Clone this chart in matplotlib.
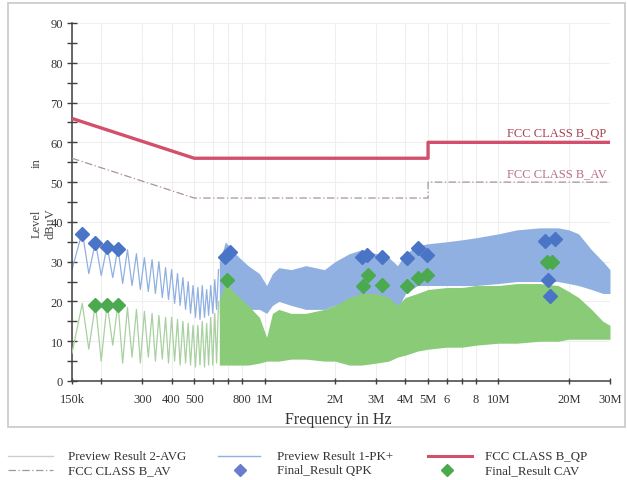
import matplotlib
matplotlib.use("Agg")
import matplotlib.pyplot as plt
from matplotlib.lines import Line2D
from matplotlib.patches import Rectangle
from matplotlib.ticker import FixedLocator, NullFormatter

plt.rcParams['font.family'] = ['Liberation Serif', 'DejaVu Serif']

# ---------------- data ----------------
# Preview Result 1-PK+ : clearly resolved oscillation (kHz, dBuV)
pk_lo_khz = [150, 166, 177, 189, 200, 212, 224, 236, 247, 259, 271, 283, 294, 306,
             318, 330, 341, 353, 365, 377, 388, 400, 412, 424, 435, 447, 459, 471,
             482, 494, 506, 518, 529, 541, 553, 565, 576, 588, 600, 612, 623, 635]
pk_lo_db = [28, 37.5, 27, 35, 26.5, 34, 26, 33.5, 24.5, 33, 24, 32, 23, 31,
            22.5, 30.5, 22, 30, 21, 28.5, 20.5, 28, 19.5, 27, 19, 26, 18, 25,
            17, 24, 16, 23.5, 15.5, 24, 16, 23, 16.5, 24, 17, 25.5, 18, 28]

# Preview Result 2-AVG : clearly resolved oscillation (kHz, dBuV)
av_lo_khz = pk_lo_khz
av_lo_db = [7, 19.5, 8, 19.5, 5, 19.5, 9, 19.5, 4.5, 18.5, 6, 18, 4.5, 17.5,
            6, 17, 5, 16.5, 5.5, 16, 4.5, 16, 5, 15.5, 4, 15, 4.5, 14.5,
            4, 14, 3.5, 14, 4, 15, 3.5, 14.5, 4, 16, 4, 17, 4.5, 20]

# dense part of the sweeps: envelopes (MHz, dBuV)
dense_mhz = [0.64, 0.68, 0.72, 0.78, 0.85, 0.95, 1.02, 1.08, 1.15, 1.3, 1.5, 1.8,
             2.0, 2.3, 2.6, 3.0, 3.4, 3.7, 4.0, 4.5, 5.0, 6.0, 7.0, 8.0, 10, 12,
             15, 18, 20, 22, 25, 28, 30]
pk_upper = [30, 35, 33, 31, 29, 27, 24, 27, 28.5, 28, 29, 28, 30, 32, 33, 32, 31,
            29, 32, 34, 34.5, 35, 35.5, 36, 37, 38, 38.5, 38.5, 38, 37, 33, 30, 28]
pk_lower = [17, 16, 17, 17, 18, 18, 17, 19, 20, 19, 18, 18, 19, 20, 21, 21, 20,
            18, 22, 24, 24, 24, 24, 24, 24.5, 25, 25, 25, 24.5, 24, 23, 22, 22]
av_upper = [20, 25, 23, 21, 19, 16, 11, 17, 18, 17, 17, 18, 19, 21, 22, 22, 21,
            19, 21, 22, 23, 23.5, 23.5, 24, 24, 24.5, 24.5, 24, 22.5, 21, 18, 15, 14]
av_lower = [4, 4, 4, 4, 4, 4.5, 5, 5, 5, 5.5, 5.5, 5, 5, 4, 4, 4.5, 5, 6, 6.5,
            7.5, 8, 8.5, 8.5, 9, 9.5, 9.5, 10, 10, 10.5, 10.5, 10.5, 10.5, 10.5]

# limits (MHz, dBuV)
lim_mhz = [0.15, 0.5, 5, 5, 30]
qp_limit = [66, 56, 56, 60, 60]
av_limit = [56, 46, 46, 50, 50]

# final results (MHz, dBuV)
qpk_mhz = [0.166, 0.189, 0.212, 0.236, 0.678, 0.710, 2.60, 2.73, 3.17, 4.05,
           4.54, 4.96, 15.8, 17.5, 16.3, 16.6]
qpk_db = [37.0, 34.7, 33.8, 33.2, 31.2, 32.4, 31.2, 31.6, 31.2, 30.9,
          33.4, 31.6, 35.1, 35.6, 25.5, 21.3]
cav_mhz = [0.189, 0.212, 0.236, 0.690, 2.64, 2.77, 3.19, 4.05, 4.54, 4.94, 16.2, 16.9]
cav_db = [19.1, 19.1, 19.1, 25.3, 23.9, 26.7, 24.2, 24.0, 25.9, 26.7, 30.0, 30.0]

xtick_mhz = [0.15, 0.2, 0.3, 0.4, 0.5, 0.6, 0.7, 0.8, 1, 2, 3, 4, 5, 6, 7, 8, 10, 20, 30]
xtick_labels = ["150k", "", "300", "400", "500", "", "", "800", "1M", "2M", "3M",
                "4M", "5M", "6", "", "8", "10M", "20M", "30M"]
ytick_major = [0, 10, 20, 30, 40, 50, 60, 70, 80, 90]

# ---------------- figure ----------------
W, H = 627, 481
fig = plt.figure(figsize=(W / 100, H / 100), dpi=100)
fig.patch.set_facecolor('white')

def fx(px):
    return px / W

def fy(py):
    return 1 - py / H

fig.add_artist(Rectangle((fx(8), fy(428)), fx(625) - fx(8), fy(4) - fy(428),
                         transform=fig.transFigure, fill=False,
                         edgecolor='#c8c8c8', linewidth=1.2))

ax = fig.add_axes([fx(72), fy(382), fx(610) - fx(72), fy(24) - fy(382)])
ax.set_xscale('log')
ax.set_xlim(0.15, 30)
ax.set_ylim(0, 90)

pk_color = '#90b0e2'
av_color = '#8acb78'

pk_lo_mhz = [v / 1000 for v in pk_lo_khz]
av_lo_mhz = [v / 1000 for v in av_lo_khz]

ax.plot(pk_lo_mhz, pk_lo_db, color=pk_color, lw=0.9, zorder=2)
ax.fill_between(dense_mhz, pk_lower, pk_upper, color=pk_color, lw=0, zorder=2)
ax.plot(av_lo_mhz, av_lo_db, color='#a8d0a0', lw=0.9, zorder=3)
ax.fill_between(dense_mhz, av_lower, av_upper, color=av_color, lw=0, zorder=3)

ax.plot(lim_mhz, qp_limit, color='#d2506c', lw=2.4, zorder=4, solid_capstyle='butt')
ax.plot(lim_mhz, av_limit, color='#a8949c', lw=0.9, ls=(0, (6, 2, 1, 2)), zorder=4)

ax.plot(qpk_mhz, qpk_db, ls='none', marker='D', ms=7, color='#4a74c6', zorder=5)
ax.plot(cav_mhz, cav_db, ls='none', marker='D', ms=7, color='#4caa4e', zorder=5)

ax.text(29, 60.8, "FCC CLASS B_QP", ha='right', va='bottom', fontsize=9,
        color='#a8404e', zorder=6)
ax.text(29, 50.8, "FCC CLASS B_AV", ha='right', va='bottom', fontsize=9,
        color='#b87080', zorder=6)

# axes styling
for s in ['top', 'right']:
    ax.spines[s].set_visible(False)
for s in ['left', 'bottom']:
    ax.spines[s].set_color('#404040')
    ax.spines[s].set_linewidth(1.1)

ax.xaxis.set_major_locator(FixedLocator(xtick_mhz))
ax.set_xticklabels(xtick_labels)
ax.xaxis.set_minor_locator(FixedLocator([]))
ax.xaxis.set_minor_formatter(NullFormatter())
ax.yaxis.set_major_locator(FixedLocator(ytick_major))
ax.yaxis.set_minor_locator(FixedLocator([5, 15, 25, 35, 45, 55, 65, 75, 85]))
ax.tick_params(axis='x', which='major', direction='inout', length=5, width=1,
               color='#404040', labelsize=9, labelcolor='#333333', pad=6)
ax.tick_params(axis='y', which='major', direction='inout', length=7, width=1,
               color='#404040', labelsize=9, labelcolor='#333333', pad=3)
ax.tick_params(axis='y', which='minor', direction='inout', length=7, width=1,
               color='#404040')

ax.grid(True, which='major', axis='both', color='#efefef', lw=0.8, zorder=0)
ax.set_axisbelow(True)

fig.text(fx(338), fy(420), "Frequency in Hz", ha='center', va='center',
         fontsize=11.5, color='#333333')

# y label (as laid out in the source chart)
fig.text(fx(37), fy(163), "in", rotation=90, ha='center', va='center',
         fontsize=9, color='#444444')
fig.text(fx(37), fy(224), "Level", rotation=90, ha='center', va='center',
         fontsize=9, color='#444444')
fig.text(fx(51), fy(224), "dBµV", rotation=90, ha='center', va='center',
         fontsize=9, color='#444444')

# legend
row1, row2 = 457, 471
fs = 9.3
tc = '#333333'
fig.add_artist(Line2D([fx(8), fx(53)], [fy(row1), fy(row1)], color='#c8d0c8', lw=1))
fig.text(fx(68), fy(row1), "Preview Result 2-AVG", va='center', fontsize=fs, color=tc)
fig.add_artist(Line2D([fx(8), fx(53)], [fy(row2), fy(row2)], color='#a8949c', lw=0.9,
                      ls=(0, (6, 2, 1, 2))))
fig.text(fx(68), fy(row2), "FCC CLASS B_AV", va='center', fontsize=fs, color=tc)

fig.add_artist(Line2D([fx(218), fx(260)], [fy(row1), fy(row1)], color=pk_color, lw=1))
fig.text(fx(277), fy(row1), "Preview Result 1-PK+", va='center', fontsize=fs, color=tc)
fig.add_artist(Line2D([fx(240)], [fy(row2)], ls='none', marker='D', ms=6, color='#6a7ccc'))
fig.text(fx(277), fy(row2), "Final_Result QPK", va='center', fontsize=fs, color=tc)

fig.add_artist(Line2D([fx(428), fx(472)], [fy(row1), fy(row1)], color='#d2506c', lw=2.2))
fig.text(fx(485), fy(row1), "FCC CLASS B_QP", va='center', fontsize=fs, color=tc)
fig.add_artist(Line2D([fx(447)], [fy(row2)], ls='none', marker='D', ms=6, color='#4caa4e'))
fig.text(fx(485), fy(row2), "Final_Result CAV", va='center', fontsize=fs, color=tc)

fig.savefig("out.png", dpi=100, facecolor='white')
